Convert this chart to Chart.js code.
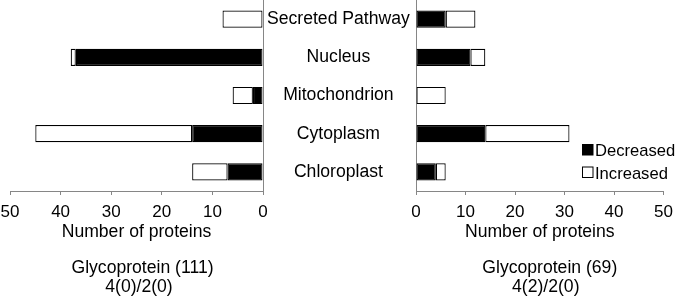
<!DOCTYPE html>
<html><head><meta charset="utf-8">
<script src="https://cdn.jsdelivr.net/npm/chart.js@4/dist/chart.umd.min.js"></script>
<style>
html,body{margin:0;padding:0;background:#fff;}
#wrap{position:relative;width:680px;height:300px;overflow:hidden;}
canvas{position:absolute;left:0;top:0;}
</style></head><body>
<div id="wrap"><canvas id="leftChart" width="680" height="300"></canvas><canvas id="rightChart" width="680" height="300"></canvas></div>
<script>
const categories = ['Secreted Pathway', 'Nucleus', 'Mitochondrion', 'Cytoplasm', 'Chloroplast'];
const leftDecreased = [0, 37, 2, 14, 7];
const leftIncreased = [8, 1, 4, 31, 7];
const rightDecreased = [6, 11, 0, 14, 4];
const rightIncreased = [6, 3, 6, 17, 2];
const seriesNames = ['Decreased', 'Increased'];
const xTickValues = [0, 10, 20, 30, 40, 50];
const axisTitle = 'Number of proteins';
const leftCaption = ['Glycoprotein (111)', '4(0)/2(0)'];
const rightCaption = ['Glycoprotein (69)', '4(2)/2(0)'];

const FONT = "'Liberation Sans', Arial, sans-serif";
const AXIS = '#868686';

function datasets(dec, inc) {
  return [
    {label: seriesNames[0], data: dec, backgroundColor: '#000', borderColor: '#000', borderWidth: 1.2, borderSkipped: false, barPercentage: 0.45, categoryPercentage: 1},
    {label: seriesNames[1], data: inc, backgroundColor: '#fff', borderColor: '#000', borderWidth: 1.2, borderSkipped: false, barPercentage: 0.45, categoryPercentage: 1}
  ];
}

function captionPlugin(lines, offsets) {
  return {
    id: 'caption',
    afterDraw(chart) {
      const ctx = chart.ctx, a = chart.chartArea;
      const cx = (a.left + a.right) / 2;
      ctx.save();
      ctx.fillStyle = '#000';
      ctx.font = '17.6px ' + FONT;
      ctx.textAlign = 'center';
      ctx.textBaseline = 'middle';
      lines.forEach((t, i) => ctx.fillText(t, cx + offsets[i], 268 + i * 19));
      ctx.restore();
    }
  };
}

const legendPlugin = {
  id: 'boxLegend',
  afterDraw(chart) {
    const ctx = chart.ctx;
    ctx.save();
    ctx.font = '16.6px ' + FONT;
    ctx.textAlign = 'left';
    ctx.textBaseline = 'alphabetic';
    chart.data.datasets.forEach((ds, i) => {
      const y = 144.5 + i * 22.5;
      ctx.fillStyle = ds.backgroundColor;
      ctx.fillRect(582.5, y, 10.5, 10.5);
      ctx.strokeStyle = ds.borderColor;
      ctx.lineWidth = 1;
      ctx.strokeRect(582.5, y, 10.5, 10.5);
      ctx.fillStyle = '#000';
      ctx.fillText(ds.label, 595, y + 11.5);
    });
    ctx.restore();
  }
};

function xScale(reverse) {
  return {
    type: 'linear', min: 0, max: 50, reverse: reverse, stacked: true,
    afterBuildTicks(s) { s.ticks = xTickValues.map(v => ({value: v})); },
    ticks: {color: '#000', font: {family: FONT, size: 17}, padding: 7, maxRotation: 0},
    grid: {drawOnChartArea: false, drawTicks: true, tickLength: 4, color: AXIS},
    border: {color: AXIS, width: 1},
    title: {display: true, text: axisTitle, color: '#000', font: {family: FONT, size: 17.6, lineHeight: 1.2}, padding: {top: 0, bottom: 57.5}},
    afterFit(s) { s.height = 109; }
  };
}

function yAfterFit(width) {
  return function (s) { s.width = width; s.paddingTop = 0; s.paddingBottom = 0; };
}

new Chart(document.getElementById('leftChart'), {
  type: 'bar',
  data: {labels: categories, datasets: datasets(leftDecreased, leftIncreased)},
  options: {
    responsive: false, animation: false, indexAxis: 'y',
    layout: {padding: {left: 10, right: 264, top: 0, bottom: 0}},
    plugins: {legend: {display: false}, tooltip: {enabled: false}},
    scales: {
      x: xScale(true),
      y: {
        type: 'category', position: 'right', stacked: true,
        ticks: {color: '#000', font: {family: FONT, size: 17.6}, crossAlign: 'center', padding: 4, autoSkip: false},
        grid: {drawOnChartArea: false, drawTicks: false},
        border: {color: AXIS, width: 1},
        afterFit: yAfterFit(153)
      }
    }
  },
  plugins: [captionPlugin(leftCaption, [6, 2.5])]
});

new Chart(document.getElementById('rightChart'), {
  type: 'bar',
  data: {labels: categories, datasets: datasets(rightDecreased, rightIncreased)},
  options: {
    responsive: false, animation: false, indexAxis: 'y',
    layout: {padding: {left: 416, right: 10, top: 0, bottom: 0}},
    plugins: {legend: {display: false}, tooltip: {enabled: false}},
    scales: {
      x: xScale(false),
      y: {
        type: 'category', position: 'left', stacked: true,
        ticks: {display: false},
        grid: {drawOnChartArea: false, drawTicks: false},
        border: {color: AXIS, width: 1},
        afterFit: yAfterFit(0)
      }
    }
  },
  plugins: [captionPlugin(rightCaption, [10, 6])]
    .concat([legendPlugin])
});
</script>
</body></html>
